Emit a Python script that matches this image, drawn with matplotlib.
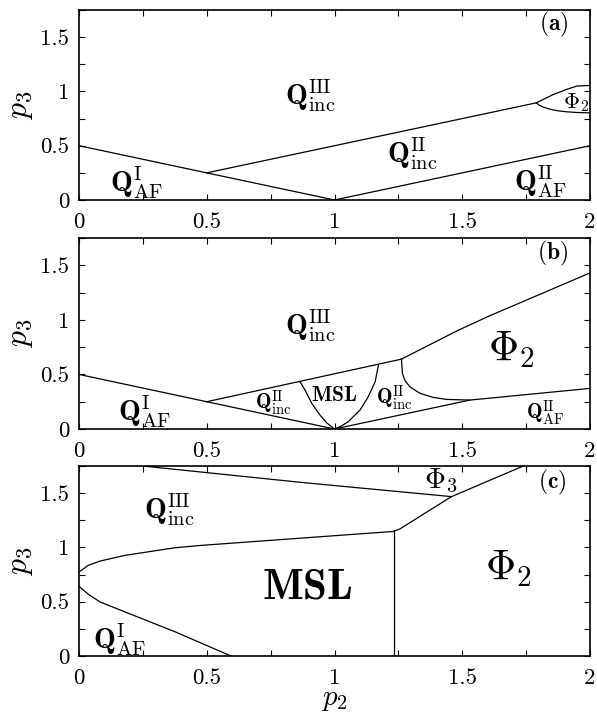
import matplotlib
matplotlib.use("Agg")
import matplotlib.pyplot as plt
from matplotlib.ticker import MultipleLocator

plt.rcParams['font.family'] = 'serif'
plt.rcParams['font.serif'] = ['cmr10']
plt.rcParams['mathtext.fontset'] = 'cm'
plt.rcParams['axes.formatter.use_mathtext'] = True

# ---- panel (a) boundaries ----
a_left_x = [0, 1]
a_left_y = [0.5, 0]
a_mid_x = [0.5, 1.79]
a_mid_y = [0.25, 0.895]
a_right_x = [1, 2]
a_right_y = [0, 0.5]
a_phi_up_x = [1.79, 1.825, 1.855, 1.91, 1.95, 2.0]
a_phi_up_y = [0.895, 0.935, 0.97, 1.02, 1.05, 1.055]
a_phi_lo_x = [1.79, 1.80, 1.816, 1.835, 1.855, 1.88, 1.91, 1.95, 2.0]
a_phi_lo_y = [0.895, 0.875, 0.857, 0.842, 0.83, 0.82, 0.812, 0.806, 0.803]

# ---- panel (b) boundaries ----
b_left_x = [0, 1]
b_left_y = [0.5, 0]
b_upper_x = [0.5, 1.262]
b_upper_y = [0.25, 0.64]
b_msl_l_x = [0.865, 0.885, 0.911, 0.943, 0.97, 1.0]
b_msl_l_y = [0.432, 0.356, 0.235, 0.128, 0.055, 0.0]
b_msl_r_x = [1.172, 1.159, 1.132, 1.10, 1.054, 1.025, 1.0]
b_msl_r_y = [0.586, 0.432, 0.295, 0.174, 0.067, 0.025, 0.0]
b_phi_up_x = [1.262, 1.48, 1.61, 1.80, 2.0]
b_phi_up_y = [0.64, 0.90, 1.04, 1.23, 1.43]
b_phi_lo_x = [1.262, 1.266, 1.275, 1.295, 1.335, 1.387, 1.439, 1.53]
b_phi_lo_y = [0.64, 0.508, 0.447, 0.386, 0.326, 0.289, 0.271, 0.265]
b_lower_x = [1, 1.53, 2]
b_lower_y = [0, 0.265, 0.372]

# ---- panel (c) boundaries ----
c_lower_x = [0, 0.036, 0.082, 0.18, 0.376, 0.595]
c_lower_y = [0.642, 0.569, 0.498, 0.406, 0.223, 0]
c_upper_x = [0, 0.036, 0.082, 0.18, 0.376, 0.474, 0.865, 1.229]
c_upper_y = [0.773, 0.835, 0.874, 0.927, 0.997, 1.018, 1.085, 1.147]
c_vert_x = [1.233, 1.233]
c_vert_y = [0, 1.147]
c_phi_x = [1.229, 1.256, 1.36, 1.458, 1.739]
c_phi_y = [1.147, 1.17, 1.324, 1.468, 1.75]
c_top_x = [0.25, 0.865, 1.458]
c_top_y = [1.75, 1.60, 1.468]

xticks = [0, 0.5, 1, 1.5, 2]
xtick_labels = ['0', '0.5', '1', '1.5', '2']
yticks = [0, 0.5, 1, 1.5]
ytick_labels = ['0', '0.5', '1', '1.5']

fig = plt.figure(figsize=(5.97, 7.13), dpi=100)
W, H = 597.0, 713.0
ax_a = fig.add_axes([79 / W, 1 - 200 / H, 511 / W, 190 / H])
ax_b = fig.add_axes([79 / W, 1 - 429 / H, 511 / W, 191 / H])
ax_c = fig.add_axes([79 / W, 1 - 656 / H, 511 / W, 190 / H])

lw = 0.9
for ax in (ax_a, ax_b, ax_c):
    ax.set_xlim(0, 2)
    ax.set_ylim(0, 1.75)
    ax.set_xticks(xticks)
    ax.set_xticklabels(xtick_labels)
    ax.set_yticks(yticks)
    ax.set_yticklabels(ytick_labels)
    ax.xaxis.set_minor_locator(MultipleLocator(0.25))
    ax.yaxis.set_minor_locator(MultipleLocator(0.25))
    ax.tick_params(which='both', direction='in', top=True, right=True,
                   length=4, width=0.8, labelsize=16.5)
    ax.tick_params(axis='x', pad=9)
    ax.tick_params(axis='y', pad=7)
    for s in ax.spines.values():
        s.set_linewidth(1.2)
    ax.set_ylabel(r'$p_3$', fontsize=23, labelpad=4)

# panel (a)
ax_a.plot(a_left_x, a_left_y, 'k-', lw=lw)
ax_a.plot(a_mid_x, a_mid_y, 'k-', lw=lw)
ax_a.plot(a_right_x, a_right_y, 'k-', lw=lw)
ax_a.plot(a_phi_up_x, a_phi_up_y, 'k-', lw=lw)
ax_a.plot(a_phi_lo_x, a_phi_lo_y, 'k-', lw=lw)
ax_a.text(0.904, 0.958, r'$\mathbf{Q}^{\mathrm{III}}_{\mathrm{inc}}$', fontsize=21, ha='center', va='center')
ax_a.text(0.225, 0.161, r'$\mathbf{Q}^{\mathrm{I}}_{\mathrm{AF}}$', fontsize=21, ha='center', va='center')
ax_a.text(1.305, 0.429, r'$\mathbf{Q}^{\mathrm{II}}_{\mathrm{inc}}$', fontsize=21, ha='center', va='center')
ax_a.text(1.808, 0.166, r'$\mathbf{Q}^{\mathrm{II}}_{\mathrm{AF}}$', fontsize=21, ha='center', va='center')
ax_a.text(1.947, 0.899, r'$\Phi_2$', fontsize=16, ha='center', va='center')
ax_a.text(1.857, 1.613, r'$(\mathbf{a})$', fontsize=17, ha='center', va='center')

# panel (b)
ax_b.plot(b_left_x, b_left_y, 'k-', lw=lw)
ax_b.plot(b_upper_x, b_upper_y, 'k-', lw=lw)
ax_b.plot(b_msl_l_x, b_msl_l_y, 'k-', lw=lw)
ax_b.plot(b_msl_r_x, b_msl_r_y, 'k-', lw=lw)
ax_b.plot(b_phi_up_x, b_phi_up_y, 'k-', lw=lw)
ax_b.plot(b_phi_lo_x, b_phi_lo_y, 'k-', lw=lw)
ax_b.plot(b_lower_x, b_lower_y, 'k-', lw=lw)
ax_b.text(0.904, 0.95, r'$\mathbf{Q}^{\mathrm{III}}_{\mathrm{inc}}$', fontsize=21, ha='center', va='center')
ax_b.text(0.258, 0.155, r'$\mathbf{Q}^{\mathrm{I}}_{\mathrm{AF}}$', fontsize=21, ha='center', va='center')
ax_b.text(0.759, 0.237, r'$\mathbf{Q}^{\mathrm{II}}_{\mathrm{inc}}$', fontsize=15, ha='center', va='center')
ax_b.text(1.0, 0.31, r'$\mathbf{MSL}$', fontsize=15.5, ha='center', va='center')
ax_b.text(1.233, 0.279, r'$\mathbf{Q}^{\mathrm{II}}_{\mathrm{inc}}$', fontsize=15, ha='center', va='center')
ax_b.text(1.691, 0.721, r'$\Phi_2$', fontsize=30, ha='center', va='center')
ax_b.text(1.824, 0.142, r'$\mathbf{Q}^{\mathrm{II}}_{\mathrm{AF}}$', fontsize=15, ha='center', va='center')
ax_b.text(1.855, 1.607, r'$(\mathbf{b})$', fontsize=17, ha='center', va='center')

# panel (c)
ax_c.plot(c_lower_x, c_lower_y, 'k-', lw=lw)
ax_c.plot(c_upper_x, c_upper_y, 'k-', lw=lw)
ax_c.plot(c_vert_x, c_vert_y, 'k-', lw=lw)
ax_c.plot(c_phi_x, c_phi_y, 'k-', lw=lw)
ax_c.plot(c_top_x, c_top_y, 'k-', lw=lw)
ax_c.text(0.352, 1.349, r'$\mathbf{Q}^{\mathrm{III}}_{\mathrm{inc}}$', fontsize=21, ha='center', va='center')
ax_c.text(0.16, 0.147, r'$\mathbf{Q}^{\mathrm{I}}_{\mathrm{AF}}$', fontsize=21, ha='center', va='center')
ax_c.text(0.892, 0.633, r'$\mathbf{MSL}$', fontsize=31, ha='center', va='center')
ax_c.text(1.417, 1.615, r'$\Phi_3$', fontsize=21, ha='center', va='center')
ax_c.text(1.683, 0.798, r'$\Phi_2$', fontsize=30, ha='center', va='center')
ax_c.text(1.853, 1.601, r'$(\mathbf{c})$', fontsize=17, ha='center', va='center')
ax_c.set_xlabel(r'$p_2$', fontsize=21, labelpad=-1)

fig.savefig('out.png', dpi=100)
